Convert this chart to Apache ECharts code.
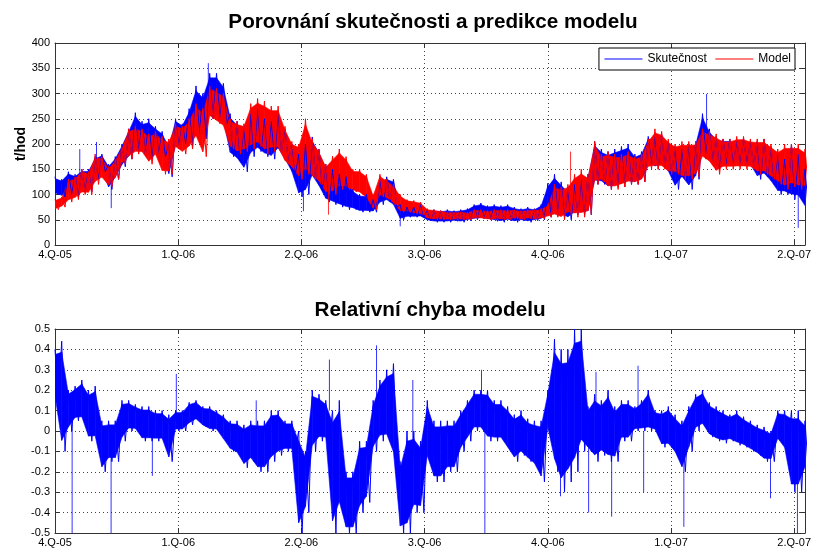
<!DOCTYPE html>
<html><head><meta charset="utf-8">
<script src="https://cdn.jsdelivr.net/npm/echarts@6.0.0/dist/echarts.min.js"></script>
<style>html,body{margin:0;padding:0;background:#fff}#c{width:814px;height:551px}</style>
</head><body><div id="c"></div>
<script>
// ---- data ----
const quarterLabels = ['4.Q-05','1.Q-06','2.Q-06','3.Q-06','4.Q-06','1.Q-07','2.Q-07'];
const quarterStartDays = [0,92,182,273,365,457,547,638];
const endDay = 555;      // last day shown (days since 1.10.2005)
const stepDays = 5;      // sampling step of envelope arrays

const actualHi = [135,130,145,140,150,150,175,180,160,175,
 200,230,262,245,250,235,225,200,250,240,
 270,315,300,340,340,320,260,245,235,260,
 270,250,245,260,230,200,180,200,214,190,
 160,150,140,135,110,100,100,90,130,135,
 130,80,75,75,80,70,70,68,70,68,
 70,72,80,83,78,80,78,80,75,72,
 75,72,80,122,140,125,110,120,130,140,
 205,190,185,190,195,200,180,185,215,215,
 220,205,195,190,200,205,260,230,215,210,
 210,205,210,205,205,210,195,180,170,200,
 180,150];
const actualLo = [100,95,100,95,105,105,130,145,110,130,
 155,170,185,180,170,180,175,135,195,200,
 195,220,210,250,250,240,175,165,145,175,
 185,175,170,185,165,140,95,100,130,110,
 85,80,75,70,70,65,65,65,80,85,
 75,50,55,55,55,48,45,45,45,47,
 45,48,50,52,50,47,45,48,45,48,
 45,48,50,55,60,55,50,60,60,60,
 120,120,110,115,115,120,120,125,160,150,
 155,140,110,130,110,130,180,165,150,160,
 160,160,160,155,130,135,120,100,100,90,
 90,70];
const actualSpikes = [[18.5,140,190],[31,170,204],[42,120,73],[114,320,360],[183.5,120,67],[255,60,37],[483,220,299],[550,100,34]];

const modelHi = [90,95,130,135,150,145,180,175,155,170,
 195,230,235,230,220,225,215,210,240,235,
 250,280,270,315,310,300,250,245,240,280,
 290,285,275,275,235,205,200,250,210,190,
 160,176,190,175,150,150,140,100,140,130,
 120,100,90,88,85,72,70,68,66,65,
 66,65,70,70,68,70,70,70,70,68,
 70,70,72,80,120,115,120,140,150,140,
 205,180,185,180,180,185,175,180,210,230,
 225,210,200,205,205,205,230,225,220,210,
 210,215,215,210,210,210,200,190,200,200,
 200,190];
const modelLo = [70,75,85,90,100,100,120,130,115,130,
 160,170,180,180,160,175,140,140,190,180,
 190,210,175,250,240,230,190,180,185,190,
 195,180,185,185,160,150,130,140,130,120,
 100,100,110,110,105,100,90,70,95,90,
 80,65,65,62,60,52,50,50,50,50,
 50,50,52,52,50,50,50,50,52,50,
 52,50,52,55,55,50,60,55,55,60,
 120,125,110,110,115,120,120,125,150,150,
 150,140,140,130,130,135,170,160,140,150,
 150,150,150,150,140,140,130,120,110,115,
 110,110];
const modelSpikes = [[202,110,60],[382,110,185]];

const errHi = [0.40,0.44,0.20,0.22,0.25,0.20,0.22,0.05,0.05,0.05,
 0.15,0.15,0.13,0.12,0.12,0.10,0.10,0.08,0.10,0.10,
 0.14,0.15,0.12,0.12,0.10,0.08,0.05,0.05,0.03,0.05,
 0.05,0.05,0.10,0.10,0.05,0.05,0.00,-0.10,0.20,0.18,
 0.15,0.10,0.15,-0.20,-0.20,-0.05,-0.05,0.15,0.25,0.30,
 0.33,-0.15,0.00,0.00,-0.05,0.15,0.05,0.05,0.05,0.05,
 0.10,0.15,0.20,0.20,0.20,0.15,0.15,0.12,0.08,0.10,
 0.06,0.05,0.05,0.20,0.45,0.40,0.40,0.50,0.50,0.12,
 0.18,0.15,0.20,0.12,0.15,0.15,0.12,0.15,0.20,0.10,
 0.10,0.12,0.08,0.05,0.12,0.18,0.20,0.14,0.12,0.10,
 0.08,0.10,0.07,0.05,0.03,0.02,0.00,0.10,0.10,0.10,
 0.10,0.05];
const errLo = [0.15,-0.10,0.00,0.05,0.05,-0.05,-0.05,-0.20,-0.15,-0.15,
 -0.05,0.00,0.00,-0.05,-0.05,-0.05,-0.05,-0.15,0.00,0.00,
 0.03,0.05,0.02,0.00,0.00,-0.05,-0.10,-0.12,-0.18,-0.15,
 -0.20,-0.20,-0.15,-0.12,-0.10,-0.10,-0.50,-0.40,-0.10,-0.05,
 -0.05,-0.50,-0.40,-0.50,-0.50,-0.40,-0.35,-0.10,-0.05,-0.05,
 -0.15,-0.50,-0.50,-0.40,-0.40,-0.15,-0.25,-0.25,-0.20,-0.20,
 -0.10,-0.05,0.00,0.00,-0.05,-0.05,-0.05,-0.10,-0.15,-0.12,
 -0.15,-0.18,-0.25,0.00,-0.20,-0.30,-0.25,-0.20,-0.10,-0.10,
 -0.15,-0.12,-0.15,-0.15,-0.05,-0.05,0.00,0.00,0.00,0.00,
 -0.08,-0.08,-0.12,-0.20,-0.10,0.00,0.02,-0.03,-0.05,-0.06,
 -0.05,-0.07,-0.08,-0.10,-0.12,-0.15,-0.15,-0.05,-0.10,-0.30,
 -0.30,-0.20];
const errSpikes = [[12.8,0.05,-0.5],[41.9,-0.1,-0.5],[72.7,0,-0.22],[90.6,0.05,0.28],[149,0,0.15],
 [202.7,0.1,0.35],[237.5,0.1,0.42],[264.3,-0.1,0.25],[315.5,0.1,0.3],[318,0,-0.5],
 [374.5,0,-0.32],[395.5,0,-0.4],[401,0,0.29],[412.7,-0.1,-0.42],[432.4,0.1,0.32],[436.6,0,-0.3],
 [466.4,-0.1,-0.47],[529.7,-0.1,-0.33],[549.4,-0.2,-0.5]];

// ---- helpers ----
function toQ(d){
  for (let k = 0; k < quarterStartDays.length - 1; k++) {
    if (d < quarterStartDays[k+1] || k === quarterStartDays.length - 2)
      return k + (d - quarterStartDays[k]) / (quarterStartDays[k+1] - quarterStartDays[k]);
  }
}
const xMax = toQ(endDay);
const FONT = 'Liberation Sans, Arial, sans-serif';
const BLUE = '#0000ff', RED = '#ff0000';
const CORE = 0.1; // dense core of the band drawn slightly inset from the envelope; the zig line reaches the envelope

function bandSeries(id, hi, lo, color, gi){
  const data = [];
  for (let i = 0; i < hi.length - 1; i++) {
    data.push([toQ(i*stepDays), hi[i], lo[i], toQ((i+1)*stepDays), hi[i+1], lo[i+1]]);
  }
  return {type:'custom', name:id+'_band', xAxisIndex:gi*2, yAxisIndex:gi*2, data:data, clip:true, silent:true,
    encode:{x:[0,3], y:[1,2,4,5]},
    renderItem:(params, api)=>{
      const h0 = api.value(1), l0 = api.value(2), h1 = api.value(4), l1 = api.value(5);
      const p1 = api.coord([api.value(0), h0 - CORE*(h0-l0)]);
      const p2 = api.coord([api.value(3), h1 - CORE*(h1-l1)]);
      const p3 = api.coord([api.value(3), l1 + CORE*(h1-l1)]);
      const p4 = api.coord([api.value(0), l0 + CORE*(h0-l0)]);
      return {type:'polygon', shape:{points:[p1,p2,p3,p4]}, style:{fill:color, stroke:color, lineWidth:0.6}};
    }};
}
function zigSeries(name, hi, lo, color, gi){
  const out = [];
  hi.forEach((v,i)=>{ out.push([toQ(i*stepDays), v]); out.push([toQ(i*stepDays + stepDays/2), lo[i]]); });
  return {type:'line', name:name, xAxisIndex:gi*2, yAxisIndex:gi*2, data:out, symbol:'none', showSymbol:false,
          lineStyle:{width:1, color:color}, itemStyle:{color:color}};
}
function spikeSeries(id, sp, color, gi){
  const out = [];
  sp.forEach(([d,a,b])=>{ out.push([toQ(d),a],[toQ(d),b],[toQ(d),'-']); });
  return {type:'line', name:id+'_spk', xAxisIndex:gi*2, yAxisIndex:gi*2, data:out, symbol:'none',
          connectNulls:false, lineStyle:{width:1, color:color, opacity:0.8}, silent:true};
}

function xAxes(gi){
  const common = {type:'value', gridIndex:gi, min:0, max:xMax, interval:1,
    axisLine:{show:true, onZero:false, lineStyle:{color:'#333', width:1}},
    axisTick:{show:true, inside:true, length:5, lineStyle:{color:'#333'}}};
  return [
    Object.assign({}, common, {position:'bottom',
      axisLabel:{color:'#000', fontSize:11, fontFamily:FONT, margin:4,
        formatter:(v)=>{const k=Math.round(v); return (Math.abs(v-k)<1e-6 && quarterLabels[k]) ? quarterLabels[k] : '';}},
      splitLine:{show:true, lineStyle:{color:'#444', type:[1,3], width:1}}}),
    Object.assign({}, common, {position:'top', axisLabel:{show:false}, splitLine:{show:false}})
  ];
}
function yAxes(gi, min, max, interval, fmt, name){
  const common = {type:'value', gridIndex:gi, min:min, max:max, interval:interval,
    axisLine:{show:true, onZero:false, lineStyle:{color:'#333', width:1}},
    axisTick:{show:true, inside:true, length:5, lineStyle:{color:'#333'}}};
  return [
    Object.assign({}, common, {position:'left',
      name:name || '', nameLocation:'middle', nameGap:27, nameMoveOverlap:false,
      nameTextStyle:{fontWeight:'bold', fontSize:14, color:'#000', fontFamily:FONT},
      axisLabel:{color:'#000', fontSize:11, fontFamily:FONT, margin:5, formatter:fmt},
      splitLine:{show:true, lineStyle:{color:'#444', type:[1,3], width:1}}}),
    Object.assign({}, common, {position:'right', axisLabel:{show:false}, splitLine:{show:false}})
  ];
}

const chart = echarts.init(document.getElementById('c'), null, {renderer:'canvas'});
chart.setOption({
  animation:false,
  backgroundColor:'#fff',
  graphic:[
    {type:'text', x:433, y:22, style:{text:'Porovnání skutečnosti a predikce modelu', font:'bold 20.7px ' + FONT, fill:'#000', align:'center', verticalAlign:'middle'}},
    {type:'text', x:430, y:310, style:{text:'Relativní chyba modelu', font:'bold 20.7px ' + FONT, fill:'#000', align:'center', verticalAlign:'middle'}}
  ],
  legend:{data:['Skutečnost','Model'], right:19, top:48, itemWidth:38, itemHeight:12, itemGap:8,
    padding:[5,4,5,5], borderColor:'#000', borderWidth:1, backgroundColor:'#fff', selectedMode:false,
    itemStyle:{opacity:0}, lineStyle:{width:1},
    textStyle:{fontSize:12, color:'#000', fontFamily:FONT}},
  grid:[
    {left:55, right:8, top:43, height:202},
    {left:55, right:8, top:329, height:204}
  ],
  xAxis:[...xAxes(0), ...xAxes(1)],
  yAxis:[...yAxes(0, 0, 400, 50, (v)=>String(v), 't/hod'),
         ...yAxes(1, -0.5, 0.5, 0.1, (v)=>String(parseFloat(v.toFixed(1))))],
  series:[
    bandSeries('act', actualHi, actualLo, BLUE, 0),
    zigSeries('Skutečnost', actualHi, actualLo, BLUE, 0),
    spikeSeries('act', actualSpikes, BLUE, 0),
    bandSeries('mod', modelHi, modelLo, RED, 0),
    zigSeries('Model', modelHi, modelLo, RED, 0),
    spikeSeries('mod', modelSpikes, RED, 0),
    bandSeries('err', errHi, errLo, BLUE, 1),
    zigSeries('Chyba', errHi, errLo, BLUE, 1),
    spikeSeries('err', errSpikes, BLUE, 1)
  ]
});
</script></body></html>
